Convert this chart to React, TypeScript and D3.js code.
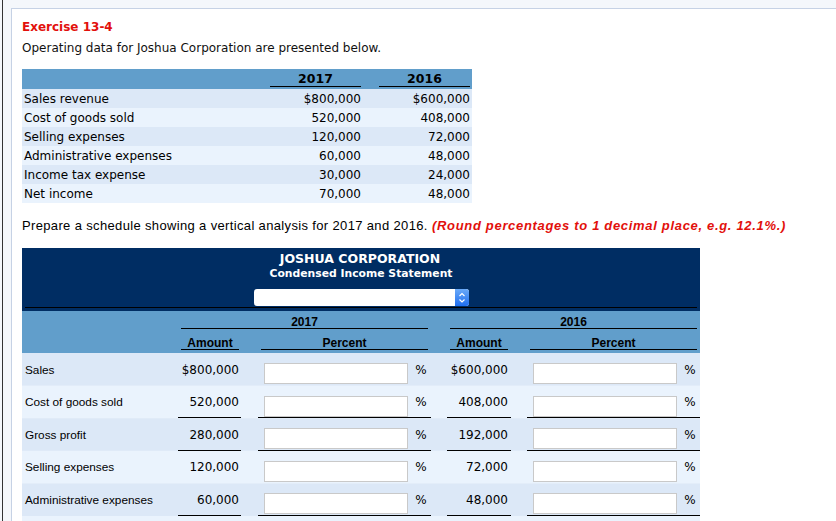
import React from "react";
import * as d3 from "d3";

const W = 836;
const H = 521;

const title = "Exercise 13-4";
const intro = "Operating data for Joshua Corporation are presented below.";
const years = ["2017", "2016"];
const dataLabels = [
  "Sales revenue",
  "Cost of goods sold",
  "Selling expenses",
  "Administrative expenses",
  "Income tax expense",
  "Net income",
];
const values2017 = [800000, 520000, 120000, 60000, 30000, 70000];
const values2016 = [600000, 408000, 72000, 48000, 24000, 48000];

const instruction = "Prepare a schedule showing a vertical analysis for 2017 and 2016.";
const instructionNote = "(Round percentages to 1 decimal place, e.g. 12.1%.)";
const companyName = "JOSHUA CORPORATION";
const statementName = "Condensed Income Statement";
const colHeads = ["Amount", "Percent"];
const schedLabels = [
  "Sales",
  "Cost of goods sold",
  "Gross profit",
  "Selling expenses",
  "Administrative expenses",
];
const sched2017 = [800000, 520000, 280000, 120000, 60000];
const sched2016 = [600000, 408000, 192000, 72000, 48000];
const underlined = [false, true, true, false, true];

const VERDANA = "'DejaVu Sans', Verdana, sans-serif";
const TAHOMA = "'Liberation Sans', Arial, sans-serif";

const HEAD_BLUE = "#619ecb";
const ROW_A = "#dce8f7";
const ROW_B = "#eaf3fd";
const NAVY = "#002d63";

export default function App() {
  const fmtFirst = d3.format("$,");
  const fmt = d3.format(",");
  const fmtVal = (v: number, i: number) => (i === 0 ? fmtFirst(v) : fmt(v));

  // top table
  const topRows = d3.scaleBand<number>().domain(d3.range(dataLabels.length)).range([89, 203]);
  const topCols = d3.scaleOrdinal<string, [number, number]>().domain(years).range([
    [270, 361],
    [379, 470],
  ]);

  // bottom table
  const rowH = 32.6;
  const bandCount = schedLabels.length + 1;
  const botRows = d3
    .scaleBand<number>()
    .domain(d3.range(bandCount))
    .range([353, 353 + rowH * bandCount]);

  const groups = [
    { year: years[0], vals: sched2017, amt: [181, 239], pct: [261, 428], box: [264, 407], sign: 421, lineAmt: [178, 241], linePct: [258, 431] },
    { year: years[1], vals: sched2016, amt: [450, 508], pct: [530, 697], box: [533, 676], sign: 690, lineAmt: [447, 511], linePct: [527, 700] },
  ];

  return (
    <svg
      width={W}
      height={H}
      viewBox={`0 0 ${W} ${H}`}
      style={{ position: "absolute", left: 0, top: 0, display: "block" }}
    >
      <defs>
        <linearGradient id="btn" x1="0" y1="0" x2="0" y2="1">
          <stop offset="0" stopColor="#6aaaf8" />
          <stop offset="1" stopColor="#1f6ef0" />
        </linearGradient>
      </defs>
      {/* page frame */}
      <rect x={0} y={0} width={W} height={H} fill="#f4f7fb" />
      <rect x={11.5} y={8.5} width={W} height={H} fill="#ffffff" stroke="#c6d2e5" strokeWidth={1} />
      <line x1={2.5} y1={0} x2={2.5} y2={H} stroke="#333" strokeWidth={1} />

      <text x={22} y={31} fill="#e2100c" fontFamily={VERDANA} fontWeight="bold" fontSize={12}>
        {title}
      </text>
      <text x={22} y={52} fill="#111" fontFamily={VERDANA} fontSize={12}>
        {intro}
      </text>

      {/* top data table */}
      <rect x={22} y={69} width={450} height={20} fill={HEAD_BLUE} />
      {years.map((y) => {
        const [a, b] = topCols(y);
        return (
          <g key={y}>
            <text x={(a + b) / 2} y={83} textAnchor="middle" fontFamily={VERDANA} fontWeight="bold" fontSize={12.5} fill="#000">
              {y}
            </text>
            <line x1={a} x2={b} y1={86.5} y2={86.5} stroke="#000" strokeWidth={1} />
          </g>
        );
      })}
      {dataLabels.map((lab, i) => {
        const y0 = topRows(i)!;
        return (
          <g key={lab}>
            <rect x={22} y={y0} width={450} height={topRows.bandwidth()} fill={i % 2 === 0 ? ROW_A : ROW_B} />
            <text x={24} y={y0 + 14} fontFamily={VERDANA} fontSize={12} fill="#000">
              {lab}
            </text>
            <text x={topCols(years[0])[1]} y={y0 + 14} textAnchor="end" fontFamily={VERDANA} fontSize={12} fill="#000">
              {fmtVal(values2017[i], i)}
            </text>
            <text x={topCols(years[1])[1]} y={y0 + 14} textAnchor="end" fontFamily={VERDANA} fontSize={12} fill="#000">
              {fmtVal(values2016[i], i)}
            </text>
          </g>
        );
      })}

      <text x={22} y={230} fontFamily={TAHOMA} fontSize={13} fill="#000">
        <tspan letterSpacing={0.35}>{instruction}</tspan>
        <tspan x={432} fill="#e2100c" fontWeight="bold" fontStyle="italic" letterSpacing={0.68}>
          {instructionNote}
        </tspan>
      </text>

      {/* schedule header */}
      <rect x={22} y={248} width={678} height={63} fill={NAVY} />
      <text x={360} y={263} textAnchor="middle" fontFamily={VERDANA} fontWeight="bold" fontSize={12.5} fill="#fff">
        {companyName}
      </text>
      <text x={361} y={277} textAnchor="middle" fontFamily={VERDANA} fontWeight="bold" fontSize={10.8} fill="#fff">
        {statementName}
      </text>
      <rect x={254} y={289} width={215} height={17} rx={3} fill="#fff" />
      <path d="M455,289 h11 a3,3 0 0 1 3,3 v11 a3,3 0 0 1 -3,3 h-11 z" fill="url(#btn)" />
      <path d="M459.5,296 l2.5,-2.5 l2.5,2.5 M459.5,299.5 l2.5,2.5 l2.5,-2.5" fill="none" stroke="#fff" strokeWidth={1.2} />
      <line x1={25} x2={697} y1={307.5} y2={307.5} stroke="#000" strokeWidth={1} />

      <rect x={22} y={311} width={678} height={42} fill={HEAD_BLUE} />
      {groups.map((g) => (
        <g key={g.year}>
          <text x={(g.amt[0] + g.pct[1]) / 2} y={326} textAnchor="middle" fontFamily={TAHOMA} fontWeight="bold" fontSize={12} fill="#000">
            {g.year}
          </text>
          <line x1={g.amt[0]} x2={g.pct[1]} y1={328.5} y2={328.5} stroke="#000" strokeWidth={1} />
          <text x={(g.amt[0] + g.amt[1]) / 2} y={347} textAnchor="middle" fontFamily={TAHOMA} fontWeight="bold" fontSize={12} fill="#000">
            {colHeads[0]}
          </text>
          <line x1={g.amt[0]} x2={g.amt[1]} y1={349.5} y2={349.5} stroke="#000" strokeWidth={1} />
          <text x={(g.pct[0] + g.pct[1]) / 2} y={347} textAnchor="middle" fontFamily={TAHOMA} fontWeight="bold" fontSize={12} fill="#000">
            {colHeads[1]}
          </text>
          <line x1={g.pct[0]} x2={g.pct[1]} y1={349.5} y2={349.5} stroke="#000" strokeWidth={1} />
        </g>
      ))}

      {d3.range(bandCount).map((i) => (
        <rect key={`bg${i}`} x={22} y={botRows(i)!} width={678} height={botRows.bandwidth() + 0.5} fill={i % 2 === 0 ? ROW_A : ROW_B} />
      ))}
      {schedLabels.map((lab, i) => {
        const y0 = botRows(i)!;
        return (
          <g key={lab}>
            <text x={25} y={y0 + 20.5} fontFamily={TAHOMA} fontSize={11.8} fill="#000">
              {lab}
            </text>
            {groups.map((g) => (
              <g key={g.year}>
                <text x={g.amt[1]} y={y0 + 20.5} textAnchor="end" fontFamily={VERDANA} fontSize={12} fill="#000">
                  {fmtVal(g.vals[i], i)}
                </text>
                <rect x={g.box[0] + 0.5} y={Math.round(y0) + 10.5} width={g.box[1] - g.box[0]} height={20} fill="#fff" stroke="#c9c9c9" strokeWidth={1} />
                <text x={g.sign} y={y0 + 20.5} textAnchor="middle" fontFamily={VERDANA} fontSize={12} fill="#000">
                  %
                </text>
                {underlined[i] && (
                  <>
                    <line x1={g.lineAmt[0]} x2={g.lineAmt[1]} y1={Math.round(y0 + rowH) - 0.5} y2={Math.round(y0 + rowH) - 0.5} stroke="#000" strokeWidth={1} />
                    <line x1={g.linePct[0]} x2={g.linePct[1]} y1={Math.round(y0 + rowH) - 0.5} y2={Math.round(y0 + rowH) - 0.5} stroke="#000" strokeWidth={1} />
                  </>
                )}
              </g>
            ))}
          </g>
        );
      })}
    </svg>
  );
}
